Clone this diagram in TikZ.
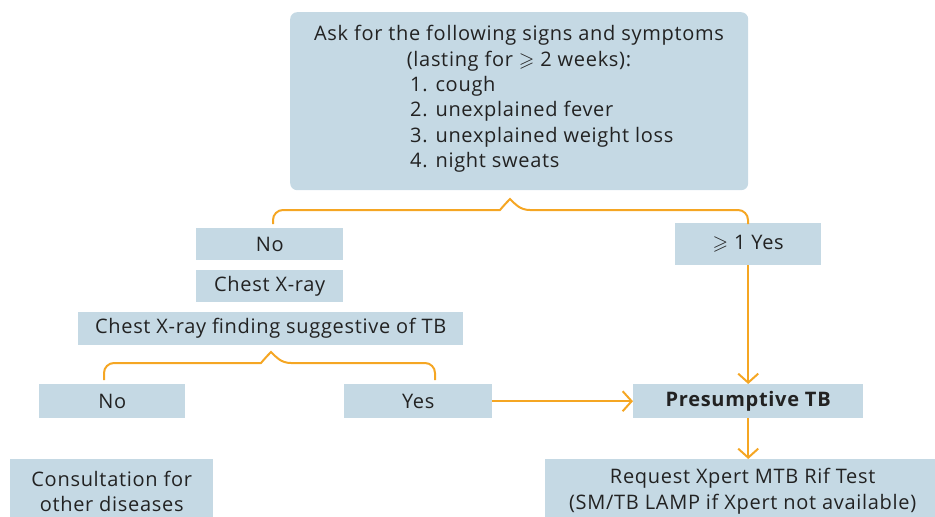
\documentclass[tikz,border=0pt]{standalone}
\usepackage{fontspec}
\usepackage{amssymb}
\setmainfont[LetterSpace=3.5]{Open Sans}
\usetikzlibrary{arrows.meta,calc}
\definecolor{boxblue}{HTML}{C5D9E4}
\definecolor{brorange}{HTML}{F5A623}
\definecolor{txt}{HTML}{222222}
\begin{document}
\begin{tikzpicture}[x=1pt,y=1pt,
  every node/.style={text=txt, font=\fontsize{20}{25.5}\selectfont, inner sep=0pt},
  bluebox/.style={fill=boxblue, draw=none},
  conn/.style={draw=brorange, line width=2pt},
  arr/.style={conn, -{Straight Barb[length=9pt,width=20pt,line width=2pt]}}]
\useasboundingbox (0,0) rectangle (935,-517);
% top box
\node[bluebox, rounded corners=7pt, minimum width=458pt, minimum height=178pt, anchor=north west] (top) at (290,-12) {};
\node[align=center, anchor=north] (title) at (519,-25) {Ask for the following signs and symptoms\\(lasting for $\geqslant$ 2 weeks):};
\node[align=left, anchor=north west] (list) at (410,-76) {1. cough\\2. unexplained fever\\3. unexplained weight loss\\4. night sweats};
% level 1
\node[bluebox, minimum width=147pt, minimum height=32pt, anchor=north west] (no1) at (196,-228) {No};
\node[bluebox, minimum width=146pt, minimum height=42pt, anchor=north west] (yes1) at (675,-223) {$\geqslant$ 1 Yes};
\node[bluebox, minimum width=147pt, minimum height=32pt, anchor=north west] (cxr) at (196,-270) {Chest X-ray};
\node[bluebox, minimum width=385pt, minimum height=33pt, anchor=north west] (cxrf) at (78,-312) {Chest X-ray finding suggestive of TB};
% level 2
\node[bluebox, minimum width=146pt, minimum height=34pt, anchor=north west] (no2) at (39,-384) {No};
\node[bluebox, minimum width=148pt, minimum height=34pt, anchor=north west] (yes2) at (344,-384) {Yes};
\node[bluebox, minimum width=230pt, minimum height=34pt, anchor=north west, font=\fontsize{20}{25.5}\selectfont\bfseries] (ptb) at (633,-384) {Presumptive TB};
\node[bluebox, minimum width=203pt, minimum height=64pt, anchor=north west, align=center] (cons) at (10,-459) {Consultation for\\other diseases};
\node[bluebox, minimum width=395pt, minimum height=64pt, anchor=north west, align=center] (req) at (545,-459) {Request Xpert MTB Rif Test\\(SM/TB LAMP if Xpert not available)};
% brace 1
\coordinate (b1tip) at (510,-199);
\coordinate (b1l) at (273,-224);
\coordinate (b1r) at (748,-224);
\draw[conn] (b1l) [rounded corners=10pt] |- (490,-210) [sharp corners] .. controls (500,-210) and (505,-204) .. (b1tip) .. controls (515,-204) and (520,-210) .. (530,-210) [rounded corners=10pt] -| (b1r);
% brace 2
\coordinate (b2tip) at (271,-352);
\coordinate (b2l) at (104,-380);
\coordinate (b2r) at (435,-380);
\draw[conn] (b2l) [rounded corners=10pt] |- (251,-363) [sharp corners] .. controls (261,-363) and (266,-357) .. (b2tip) .. controls (276,-357) and (281,-363) .. (291,-363) [rounded corners=10pt] -| (b2r);
% arrows
\draw[arr] (yes2.east) -- (ptb.west);
\draw[arr] (yes1.south) -- (yes1.south |- ptb.north);
\draw[arr] (ptb.south) -- (ptb.south |- req.north);
\end{tikzpicture}
\end{document}
